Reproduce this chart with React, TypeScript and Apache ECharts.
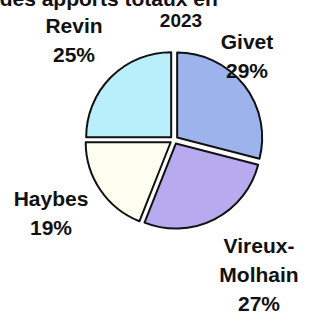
import React, { useEffect, useRef } from "react";
import * as echarts from "echarts";

const categories = ["Givet", "Vireux-\nMolhain", "Haybes", "Revin"];
const values = [29, 27, 19, 25];
const colors = ["#9db3ec", "#b7aaee", "#fdfdf0", "#b9eefb"];
const titleLine = "Répartition des apports totaux en";
const yearLabel = "2023";

const labelPos = [
  [247, 56],
  [259, 274],
  [51, 213],
  [74, 40],
];

export default function App() {
  const ref = useRef<HTMLDivElement>(null);
  useEffect(() => {
    document.body.style.margin = "0";
    const chart = echarts.init(ref.current!, null, { renderer: "svg" });
    const font = "'Liberation Sans', Arial, sans-serif";
    const pieData = categories.map((name, i) => ({ name, value: values[i] }));
    const center = [174, 140];
    const radius = [0, 85];
    chart.setOption({
      animation: false,
      backgroundColor: "#ffffff",
      graphic: [
        {
          type: "text",
          left: -117,
          top: -12,
          style: {
            text: titleLine,
            font: `bold 21px ${font}`,
            fill: "#111",
          },
        },
        {
          type: "text",
          x: 181,
          y: 20,
          style: {
            text: yearLabel,
            font: `bold 19px ${font}`,
            fill: "#111",
            align: "center",
            verticalAlign: "middle",
          },
        },
      ],
      series: [
        {
          type: "pie",
          center,
          radius,
          startAngle: 90,
          clockwise: true,
          selectedMode: "multiple",
          selectedOffset: 4,
          emphasis: { disabled: true },
          select: { itemStyle: { borderColor: "#111", borderWidth: 2 } },
          itemStyle: { borderColor: "#111", borderWidth: 2 },
          label: { show: false },
          labelLine: { show: false },
          data: pieData.map((d, i) => ({
            ...d,
            selected: true,
            itemStyle: { color: colors[i] },
          })),
        },
        {
          type: "pie",
          center,
          radius,
          startAngle: 90,
          clockwise: true,
          silent: true,
          selectedMode: false,
          emphasis: { disabled: true },
          itemStyle: { color: "rgba(0,0,0,0)", borderWidth: 0 },
          label: {
            show: true,
            position: "outside",
            overflow: "none",
            formatter: (p: any) => `${p.name}\n${p.value}%`,
            fontFamily: font,
            fontWeight: "bold",
            fontSize: 21,
            lineHeight: 29,
            color: "#111",
            align: "center",
          },
          labelLine: { show: false },
          labelLayout: (params: any) => {
            const pos = labelPos[params.dataIndex];
            return {
              x: pos[0],
              y: pos[1],
              align: "center",
              verticalAlign: "middle",
              hideOverlap: false,
            };
          },
          data: pieData,
        },
      ],
    });
    return () => chart.dispose();
  }, []);
  return <div ref={ref} style={{ width: 309, height: 313 }} />;
}
